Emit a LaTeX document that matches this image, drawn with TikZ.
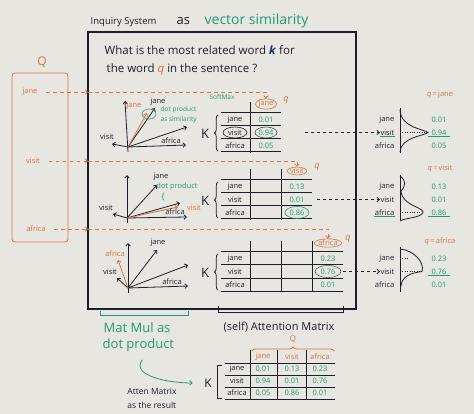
\documentclass[tikz,border=0pt]{standalone}
\usepackage{fontspec}
\setmainfont{Open Sans}
\usepackage{tikz}
\usetikzlibrary{arrows.meta}
\usetikzlibrary{calc}
\usepackage{xcolor}
\usetikzlibrary{shapes.geometric,decorations.pathreplacing}

\definecolor{ink}{HTML}{1E1E2A}
\definecolor{navy}{HTML}{1A2A6C}
\definecolor{qorange}{HTML}{D8743E}
\definecolor{kgreen}{HTML}{1E9B72}
\definecolor{board}{HTML}{E8E6E1}

\begin{document}
\begin{tikzpicture}[x=1pt,y=-1pt,>={Straight Barb[length=2.5pt,width=4.5pt]},
		every node/.style={inner sep=0.5pt,text=ink},
		qword/.style={text=qorange,font=\fontsize{7.5}{8}\selectfont},
		kword/.style={font=\fontsize{7.5}{8}\selectfont},
		val/.style={text=kgreen,font=\fontsize{7.5}{8}\selectfont},
		note/.style={text=kgreen,font=\fontsize{6.5}{7}\selectfont},
		vec/.style={->,draw=ink,line width=0.8pt},
		qvec/.style={->,draw=qorange,line width=0.8pt},
		rule/.style={draw=ink,line width=1pt},
		qdash/.style={draw=qorange,line width=0.7pt,dash pattern=on 3.5pt off 3.5pt},
		kdash/.style={draw=ink,line width=0.7pt,dash pattern=on 3pt off 3pt}]
		
		% Board
		\fill[board] (0,0) rectangle (474,414);
		\useasboundingbox (0,0) rectangle (474,414);
		
		% Title
		\node[anchor=base west,font=\fontsize{9.5}{10}\selectfont] (title) at (90,25) {Inquiry System};
		\node[anchor=base west,font=\fontsize{13}{14}\selectfont] (as) at (176,25) {as};
		\node[anchor=base west,text=kgreen,font=\fontsize{14}{15}\selectfont] (vsim) at (204,25) {vector similarity};
		
		% Inquiry box
		\draw[ink,line width=1.4pt] (88,32) rectangle (356,309);
		\node[anchor=base west,font=\fontsize{11.5}{13}\selectfont] (ask1) at (104,55) {What is the most related word \textcolor{navy}{\textbf{\textit{k}}} for};
		\node[anchor=base west,font=\fontsize{11.5}{13}\selectfont] (ask2) at (106,73) {the word \textcolor{qorange}{\textit{q}} in the sentence ?};
		
		% Queries
		\draw[qorange,line width=0.8pt,rounded corners=3pt] (12,73) rectangle (68,242);
		\node[text=qorange,font=\fontsize{12}{13}\selectfont] (Q) at (42,62) {Q};
		\node[qword] (qjane) at (30,92) {jane};
		\node[qword] (qvisit) at (33,161) {visit};
		\node[qword] (qafrica) at (36,229) {africa};
		\coordinate (e1) at (88,92);
		\coordinate (e2) at (88,161);
		\coordinate (e3) at (88,229);
		\draw[qdash,->,shorten <=8pt] (qjane) -- (e1);
		\draw[qdash,->,shorten <=8pt] (qvisit) -- (e2);
		\draw[qdash,->,shorten <=8pt] (qafrica) -- (e3);
		
		% Key tables and softmax
		\foreach \p/\yt/\qn/\qx/\va/\vb/\vc/\ly/\sh in {1/113/jane/266/0.01/0.94/0.05/95/31pt,
			2/180/visit/297/0.13/0.01/0.86/169/12pt,
			3/252/africa/328/0.23/0.76/0.01/242/7pt}{
			\foreach \c in {1,...,\p}
			\draw[rule] ({219+31*\c},\yt-11) -- ({219+31*\c},\yt+40);
			\foreach \r in {0,...,3}
			\draw[rule] (221,\yt+13*\r) -- ({250+31*\p},\yt+13*\r);
			\node[font=\fontsize{13}{14}\selectfont] (K\p) at (205,\yt+21) {K};
			\draw[ink,line width=0.8pt,decorate,decoration={brace,amplitude=3.5pt}] (218,\yt+38) -- (218,\yt+2);
			\node[qword,ellipse,draw=qorange,line width=0.6pt,inner sep=0pt] (h\p) at (\qx,\yt-9) {\qn};
			\node[qword,font=\small\itshape] (qm\p) at (\qx+20,\yt-13) {q};
			\draw[qdash,->] (e\p) -| (h\p);
			\foreach \r/\w/\v in {1/jane/\va,2/visit/\vb,3/africa/\vc}{
				\node[kword] (t\p-l\r) at (235,\yt+13*\r-6.5) {\w};
				\node[val] (t\p-v\r) at (\qx,\yt+13*\r-6.5) {\v};
				\node[kword,anchor=east] (s\p-l\r) at (395,\yt+13*\r-6.5) {\w};
				\node[val] (s\p-v\r) at (439,\yt+13*\r-6.5) {\v};
			}
			\node[qword] (ql\p) at (440,\ly) {\textit{q}\,=\,\qn};
			\draw[rule] (400,\yt-5) -- (400,\yt+40);
			\draw[kdash,->,shorten <=\sh] (t\p-v2) -- (s\p-l2);
		}
		
		% Highlights
		\draw[ink,line width=0.6pt] (t1-l2) ellipse [x radius=12pt,y radius=5.5pt];
		\draw[ink,line width=0.4pt] (t1-v2) ellipse [x radius=11pt,y radius=5.5pt];
		\draw[kgreen,line width=0.6pt] (t2-v3) ellipse [x radius=12pt,y radius=6pt];
		\draw[ink,line width=0.4pt] (t3-v2) ellipse [x radius=13pt,y radius=6pt];
		\draw[kgreen,line width=0.6pt] (s1-l2.south west) -- (s1-l2.south east);
		\draw[kgreen,line width=0.6pt] ($(s1-v2.south west)+(-3,0)$) -- ($(s1-v2.south east)+(3,0)$);
		\draw[kgreen,line width=0.6pt] (s2-l3.south west) -- (s2-l3.south east);
		\draw[kgreen,line width=0.6pt] ($(s2-v3.south west)+(-3,0)$) -- ($(s2-v3.south east)+(3,0)$);
		\draw[kgreen,line width=0.6pt] ($(s3-v2.south west)+(-3,0)$) -- ($(s3-v2.south east)+(3,0)$);
		
		% Softmax curves
		\draw[ink,line width=0.8pt] (400,110) .. controls (401,128) and (424,129) .. (428,132.5) .. controls (424,136) and (401,137) .. (400,152);
		\draw[ink,dotted] (400,132.5) -- (426,132.5);
		\draw[ink,line width=0.8pt] (400,176) .. controls (406,180) and (406,186) .. (401,191) .. controls (402,206) and (424,207) .. (423,212.5) .. controls (421,218) and (404,218) .. (400,221);
		\draw[ink,dotted] (400,212.5) -- (421,212.5);
		\draw[ink,line width=0.8pt] (400,249) .. controls (414,250) and (425,263) .. (422,271.5) .. controls (411,273) and (402,276) .. (401,286);
		\draw[ink,dotted] (400,271.5) -- (420,271.5);
		\draw[ink,dotted] (400,258.5) -- (408,258.5);
		
		% Vectors, q = jane
		\coordinate (o1) at (128,147);
		\draw[vec] (128,152) -- (125,101);
		\foreach \x/\y in {155/108,187/127,186/145,112/144}
		\draw[vec] (o1) -- (\x,\y);
		\draw[qvec] (o1) -- (147,113);
		\node[kword] (p1-j) at (158,102) {jane};
		\node[qword] (p1-q) at (134,106) {jane};
		\node[kword] (p1-a) at (171,141) {africa};
		\node[kword] (p1-v) at (107,137) {visit};
		\draw[kgreen,line width=0.6pt] (149,114) ellipse [x radius=7pt,y radius=5pt];
		\node[note,anchor=west] (dp1) at (160,110) {dot product};
		\node[note,anchor=west] (sim1) at (160,120) {as similarity};
		\node[note] (smax) at (222,97) {SoftMax};
		
		% Vectors, q = visit
		\coordinate (o2) at (127,218);
		\draw[vec] (127,223) -- (127,175);
		\foreach \x/\y in {157/185,180/203,187/217,113/214}
		\draw[vec] (o2) -- (\x,\y);
		\draw[qvec] (o2) -- (178,207);
		\node[kword] (p2-j) at (161,177) {jane};
		\node[qword] (p2-q) at (194,208) {visit};
		\node[kword] (p2-a) at (175,212) {africa};
		\node[kword] (p2-v) at (106,208) {visit};
		\node[note,font=\fontsize{7.5}{8}\selectfont] (dp2) at (177,187) {dot product};
		\node[text=kgreen,font=\fontsize{9}{9}\selectfont] (br2) at (163,197) {\{};
		
		% Vectors, q = africa
		\coordinate (o3) at (128,288);
		\draw[vec] (128,293) -- (128,243);
		\foreach \x/\y in {157/250,188/265,188/286,117/278}
		\draw[vec] (o3) -- (\x,\y);
		\draw[qvec] (o3) -- (118,260);
		\node[kword] (p3-j) at (158,243) {jane};
		\node[qword] (p3-q) at (115,254) {africa};
		\node[kword] (p3-a) at (172,282) {africa};
		\node[kword] (p3-v) at (110,272) {visit};
		
		% Captions under the box
		\draw[kgreen,line width=0.9pt] (100,311) -- (100,315) -- (188,315) -- (188,311);
		\node[anchor=base west,text=kgreen,font=\fontsize{13}{14}\selectfont] (mm1) at (103,332) {Mat Mul as};
		\node[anchor=base west,text=kgreen,font=\fontsize{13}{14}\selectfont] (mm2) at (102,348) {dot product};
		\draw[ink,line width=0.9pt] (218,306) -- (218,312) -- (343,312) -- (343,306);
		\node[font=\fontsize{11}{12}\selectfont] (selfatt) at (279,327) {(self) Attention Matrix};
		\node[align=left,font=\fontsize{8.5}{14}\selectfont] (res) at (152,398) {Atten Matrix\\as the result};
		
		% Resulting attention matrix
		\foreach \x in {250,277,306}
		\draw[rule] (\x,350) -- (\x,400);
		\foreach \y in {363,375,387,399}
		\draw[rule] (225,\y) -- (335,\y);
		\foreach \n/\x in {jane/263,visit/292,africa/320}
		\node[qword] (b-\n) at (\x,357) {\n};
		\foreach \r/\y/\a/\b/\c in {jane/369/0.01/0.13/0.23,visit/381/0.94/0.01/0.76,africa/393/0.05/0.86/0.01}{
			\node[kword] (b-l\r) at (237,\y) {\r};
			\node[val] at (263,\y) {\a};
			\node[val] at (292,\y) {\b};
			\node[val] at (320,\y) {\c};
		}
		\draw[rule] (222,365) -- (217,365) -- (217,398) -- (222,398);
		\node[font=\fontsize{12}{13}\selectfont] (bK) at (208,383) {K};
		\draw[qorange,line width=0.8pt,decorate,decoration={brace,amplitude=4pt}] (252,351) -- (334,351);
		\node[text=qorange,font=\fontsize{8}{9}\selectfont] (bQ) at (293,339) {Q};
		\draw[kgreen,->,line width=0.8pt,shorten >=11pt] ($(mm2.south)+(4,8)$) .. controls +(-12,16) and +(-35,0) .. (bK.west);
		
	\end{tikzpicture}
\end{document}
